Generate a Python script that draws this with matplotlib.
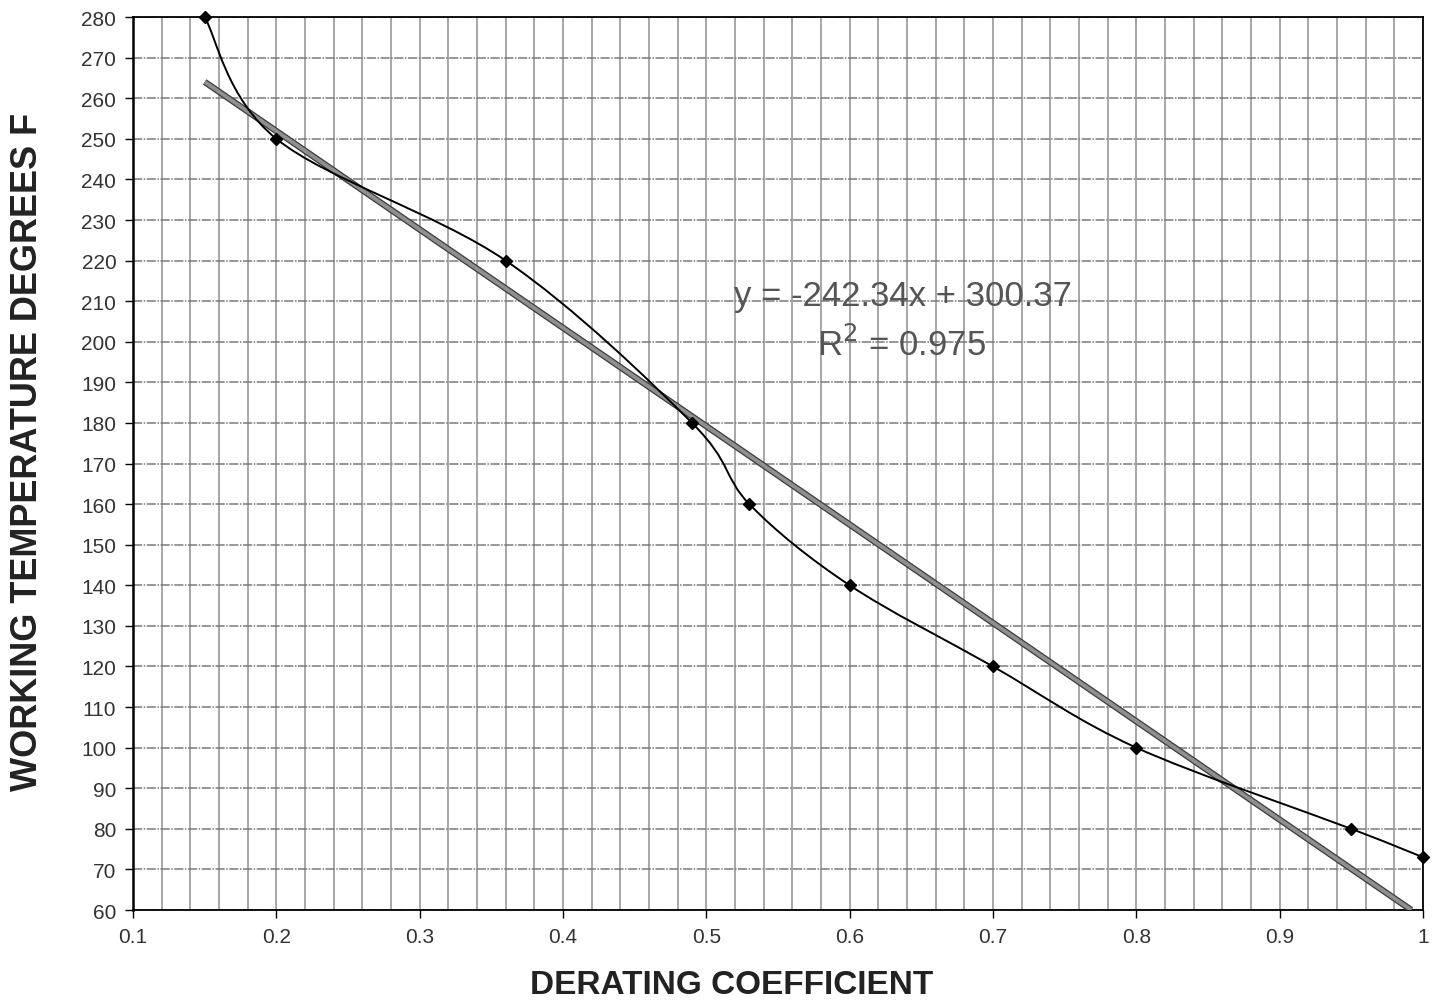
import numpy as np
import matplotlib
matplotlib.use('Agg')
import matplotlib.pyplot as plt
from matplotlib.path import Path
from matplotlib.patches import PathPatch

plt.rcParams['font.family'] = ['Liberation Sans', 'DejaVu Sans']

# data
coef = [0.15, 0.2, 0.36, 0.49, 0.53, 0.6, 0.7, 0.8, 0.95, 1.0]
temp = [280, 250, 220, 180, 160, 140, 120, 100, 80, 73]

# linear trend shown on the chart
slope = -242.34
intercept = 300.37
r2 = 0.975

x_ticks = [0.1, 0.2, 0.3, 0.4, 0.5, 0.6, 0.7, 0.8, 0.9, 1.0]
x_labels = ['0.1', '0.2', '0.3', '0.4', '0.5', '0.6', '0.7', '0.8', '0.9', '1']
y_ticks = list(range(60, 290, 10))

fig = plt.figure(figsize=(14.32, 10.03), dpi=100)
ax = fig.add_axes([0.0929, 0.0917, 0.9008, 0.8903])
ax.set_xlim(0.1, 1.0)
ax.set_ylim(60, 280)

# grid: vertical every 0.02, horizontal every 10
ax.set_xticks(x_ticks)
ax.set_xticklabels(x_labels)
ax.set_xticks(np.arange(0.1, 1.001, 0.02), minor=True)
ax.set_yticks(y_ticks)
ax.grid(True, which='both', axis='x', color='#909090', lw=1.1)
ax.grid(True, which='major', axis='y', color='#7a7a7a', lw=1.1, linestyle=(0, (6, 1, 1, 1)))
ax.set_axisbelow(True)
ax.tick_params(axis='both', which='major', direction='out', length=6,
               width=1, labelsize=15, labelcolor='#333333', pad=6)
ax.tick_params(axis='x', which='minor', length=0)
for s in ax.spines.values():
    s.set_color('black')
    s.set_linewidth(1.3)
ax.spines['left'].set_linewidth(1.8)

# trend line (ends where it meets the bottom of the axis)
x_end = (60 - intercept) / slope
xt = np.array([coef[0], x_end])
ax.plot(xt, slope * xt + intercept, color='#3c3c3c', lw=4.6, solid_capstyle='butt', zorder=3)
ax.plot(xt, slope * xt + intercept, color='#8f8f8f', lw=2.8, solid_capstyle='butt', zorder=3)

# smoothed line like the spreadsheet draws it, bezier in screen space
def smooth_path(ax, xs, ys):
    pts = ax.transData.transform(np.column_stack([xs, ys]))
    n = len(pts)
    verts = [pts[0]]
    codes = [Path.MOVETO]
    for i in range(n - 1):
        p0 = pts[i - 1] if i > 0 else pts[i]
        p1 = pts[i]
        p2 = pts[i + 1]
        p3 = pts[i + 2] if i + 2 < n else pts[i + 1]
        c1 = p1 + (p2 - p0) / 6.0
        c2 = p2 - (p3 - p1) / 6.0
        verts += [c1, c2, p2]
        codes += [Path.CURVE4] * 3
    verts = ax.transData.inverted().transform(np.array(verts))
    return Path(verts, codes)

ax.add_patch(PathPatch(smooth_path(ax, coef, temp), fill=False,
                       edgecolor='black', lw=1.4, zorder=4))
ax.plot(coef, temp, linestyle='none', marker='D', markersize=6.5,
        color='black', zorder=5, clip_on=False)

ax.text(0.637, 211.3, 'y = -242.34x + 300.37', ha='center', va='center',
        fontsize=25, color='#555555')
ax.text(0.636, 199.5, 'R$^2$ = %.3f' % r2, ha='center', va='center',
        fontsize=25, color='#555555')

fig.text(0.511, 0.009, 'DERATING COEFFICIENT', fontsize=24, fontweight='bold',
         color='#222222', ha='center', va='baseline')
fig.text(0.019, 0.549, 'WORKING TEMPERATURE DEGREES F', fontsize=26,
         fontweight='bold', color='#222222', ha='center', va='center',
         rotation=90)

fig.savefig('out.png', dpi=100)
